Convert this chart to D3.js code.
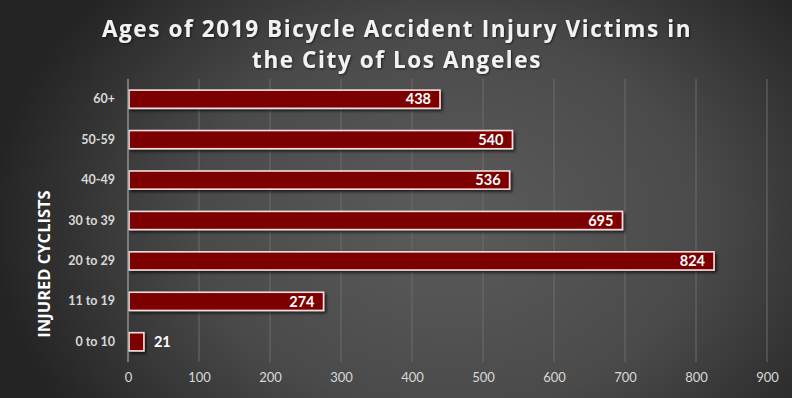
<!DOCTYPE html>
<html><head><meta charset="utf-8">
<script src="https://cdn.jsdelivr.net/npm/d3@7"></script>
<style>html,body{margin:0;padding:0;background:#333;}svg{display:block;}</style>
</head><body>
<svg id="chart" width="792" height="398"></svg>
<script>
const categories = ["60+", "50-59", "40-49", "30 to 39", "20 to 29", "11 to 19", "0 to 10"];
const values = [438, 540, 536, 695, 824, 274, 21];
const xTicks = [0, 100, 200, 300, 400, 500, 600, 700, 800, 900];
const titleLines = ["Ages of 2019 Bicycle Accident Injury Victims in", "the City of Los Angeles"];
const yTitle = "INJURED CYCLISTS";

const W = 792, H = 398;
const svg = d3.select("#chart");
const defs = svg.append("defs");
const rg = defs.append("radialGradient").attr("id", "bg")
  .attr("gradientUnits", "userSpaceOnUse")
  .attr("cx", 450).attr("cy", 220).attr("r", 460)
  .attr("gradientTransform", "translate(450,220) scale(1,0.75) translate(-450,-220)");
rg.append("stop").attr("offset", "0%").attr("stop-color", "#5c5c5c");
rg.append("stop").attr("offset", "55%").attr("stop-color", "#4a4a4a");
rg.append("stop").attr("offset", "100%").attr("stop-color", "#242424");
const sh = defs.append("filter").attr("id", "shadow").attr("x", "-10%").attr("y", "-30%").attr("width", "130%").attr("height", "180%");
sh.append("feDropShadow").attr("dx", 2).attr("dy", 2).attr("stdDeviation", 1.8).attr("flood-color", "#000").attr("flood-opacity", 0.65);
const tsh = defs.append("filter").attr("id", "tshadow");
tsh.append("feDropShadow").attr("dx", 1).attr("dy", 1).attr("stdDeviation", 1).attr("flood-color", "#000").attr("flood-opacity", 0.6);

svg.append("rect").attr("width", W).attr("height", H).attr("fill", "url(#bg)");

const x = d3.scaleLinear().domain([0, 900]).range([128, 767]);
const y = d3.scaleBand().domain(categories).range([79, 362]).paddingInner(0.55).paddingOuter(0.275);

// gridlines
svg.append("g").selectAll("line").data(xTicks.slice(1)).join("line")
  .attr("x1", d => x(d)).attr("x2", d => x(d)).attr("y1", 79).attr("y2", 362)
  .attr("stroke", "#6c6c6c").attr("stroke-width", 1);

// x axis labels
const xAxis = d3.axisBottom(x).tickValues(xTicks).tickSize(0).tickPadding(0);
const gx = svg.append("g").attr("transform", "translate(0,373)").call(xAxis);
gx.select(".domain").remove();
gx.selectAll("text").attr("fill", "#d9d9d9").style("font-family", "Lato, 'Open Sans', sans-serif").style("font-size", "13px");

// bars
svg.append("g").selectAll("rect").data(values).join("rect")
  .attr("x", x(0) + 1)
  .attr("y", (d, i) => y(categories[i]))
  .attr("width", d => x(d) - x(0))
  .attr("height", y.bandwidth())
  .attr("fill", "#7d0000")
  .attr("stroke", "#f3dede").attr("stroke-width", 1.6)
  .attr("filter", "url(#shadow)");

// y axis line
svg.append("line").attr("x1", x(0)).attr("x2", x(0)).attr("y1", 79).attr("y2", 362)
  .attr("stroke", "#a6a6a6").attr("stroke-width", 1.2);

// y axis labels
const yAxis = d3.axisLeft(y).tickSize(0).tickPadding(13);
const gy = svg.append("g").attr("transform", `translate(${x(0)},0)`).call(yAxis);
gy.select(".domain").remove();
gy.selectAll("text").attr("fill", "#d9d9d9").style("font-family", "Lato, 'Open Sans', sans-serif")
  .style("font-weight", "bold").style("font-size", "12.5px");

// value labels
svg.append("g").selectAll("text").data(values).join("text")
  .attr("x", d => (x(d) - x(0) > 40) ? x(d) - 8 : x(d) + 11)
  .attr("y", (d, i) => y(categories[i]) + y.bandwidth() / 2)
  .attr("dy", "0.36em")
  .attr("text-anchor", d => (x(d) - x(0) > 40) ? "end" : "start")
  .attr("fill", "#ffffff")
  .style("font-family", "Lato, 'Open Sans', sans-serif").style("font-weight", "bold").style("font-size", "14.5px")
  .text(d => d);

// y title
svg.append("text").attr("transform", "translate(50,264) rotate(-90)")
  .attr("text-anchor", "middle").attr("fill", "#ffffff")
  .style("font-family", "'Open Sans', Lato, sans-serif").style("font-weight", "bold").style("font-size", "16.5px")
  .text(yTitle);

// title
const tg = svg.append("g").attr("filter", "url(#tshadow)");
tg.selectAll("text").data(titleLines).join("text")
  .attr("x", 397).attr("y", (d, i) => 37 + i * 31).attr("text-anchor", "middle")
  .attr("fill", "#f2f2f2").style("font-family", "'Open Sans', Lato, sans-serif").style("font-weight", "bold")
  .style("font-size", "22.5px").style("letter-spacing", "1.6px")
  .text(d => d);
</script>
</body></html>
